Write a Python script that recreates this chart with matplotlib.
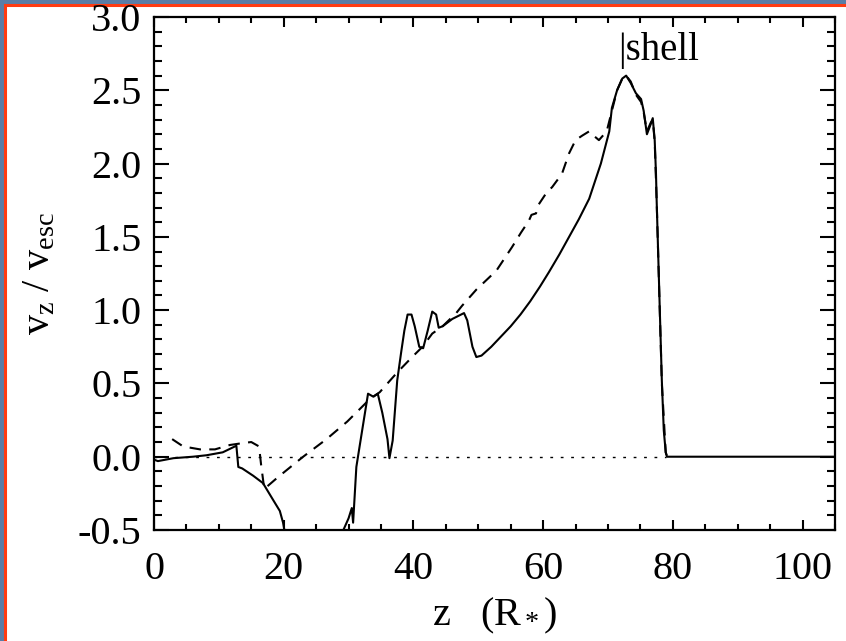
import matplotlib
matplotlib.use('Agg')
import matplotlib.pyplot as plt
from matplotlib.patches import Rectangle
from matplotlib.ticker import MultipleLocator

plt.rcParams['font.family'] = ['Liberation Serif', 'DejaVu Serif']
plt.rcParams['mathtext.fontset'] = 'custom'
plt.rcParams['mathtext.rm'] = 'Liberation Serif'
plt.rcParams['mathtext.it'] = 'Liberation Serif:italic'
plt.rcParams['mathtext.default'] = 'regular'

# ---- data ----
solid_z = [0, 0.6, 3, 6, 8.1, 10.6, 12.7, 13.0, 13.6, 15.3, 16.8, 18.3, 19.4, 19.9, 20.3, 22, 26,
           28.8, 29.2, 30.0, 30.5, 30.7, 31.2, 31.7, 33.0, 33.8, 34.5, 35.2, 36.0, 36.3, 36.8,
           37.5, 38.1, 38.6, 39.1, 39.7, 40.2, 40.9, 41.5, 42.2, 42.9, 43.5, 43.9, 44.5, 46.0,
           47.8, 48.3, 49.1, 49.7, 50.5, 52.0, 53.5, 55.0, 56.5, 58.0, 59.5, 60.9, 62.5, 64.0,
           65.5, 67.1, 68.9, 70.2, 70.6,
           71.4, 72.2, 72.8, 73.5, 74.3, 75.1, 75.5, 76.0, 76.6, 76.9, 77.2, 77.4, 77.5, 78.3,
           78.6, 78.9, 79.1, 105]
solid_v = [-0.02, -0.03, -0.01, 0.0, 0.01, 0.03, 0.075, -0.07, -0.08, -0.13, -0.18, -0.29, -0.37,
           -0.45, -0.55, -0.9, -0.9, -0.6, -0.5, -0.42, -0.35, -0.45, -0.07, 0.07, 0.43, 0.41,
           0.43, 0.30, 0.12, -0.01, 0.11, 0.52, 0.71, 0.86, 0.97, 0.97, 0.89, 0.75, 0.74, 0.86,
           0.99, 0.97, 0.88, 0.89, 0.94, 0.98, 0.93, 0.75, 0.68, 0.69, 0.75, 0.82, 0.89, 0.97,
           1.06, 1.16, 1.26, 1.38, 1.50, 1.62, 1.76, 2.00, 2.22, 2.38, 2.50, 2.58, 2.60, 2.55,
           2.48, 2.44, 2.36, 2.20, 2.27, 2.31, 2.16, 1.93, 1.75, 0.52, 0.18, 0.03, 0.0, 0.0]

dashed_z = [2.8, 4.5, 7.1, 9.4, 11.7, 14.0, 15.0, 16.2, 16.5, 17.0, 19.1, 23.0, 26.6, 29.8, 33.2,
            34.8, 37.4, 39.8, 41.4, 42.9, 44.5, 46.6, 47.5, 49.7, 52.8, 55.2, 56.6, 57.8, 58.2,
            58.9, 59.3, 60.5, 61.4, 62.9, 64.0, 65.0, 66.0, 67.1, 67.8, 68.6, 69.8, 70.6, 71.4,
            72.2, 72.8, 73.5, 74.3, 75.1, 75.5, 76.0, 76.6, 76.9, 77.2, 77.5, 78.3, 78.9, 79.1]
dashed_v = [0.12, 0.07, 0.05, 0.05, 0.08, 0.095, 0.10, 0.07, -0.05, -0.22, -0.14, 0.0, 0.12, 0.24,
            0.39, 0.44, 0.57, 0.68, 0.75, 0.84, 0.89, 0.98, 1.03, 1.14, 1.27, 1.43, 1.53, 1.61,
            1.65, 1.66, 1.72, 1.80, 1.84, 1.93, 2.07, 2.16, 2.19, 2.22, 2.19, 2.16, 2.22, 2.36,
            2.50, 2.58, 2.60, 2.56, 2.47, 2.42, 2.35, 2.22, 2.28, 2.30, 2.15, 1.75, 0.50, 0.03, 0.0]

zero_z = [0, 79]
zero_v = [0, 0]

shell_z = 71.6
shell_v = 2.71
shell_label = '|shell'

x_ticks = [0, 20, 40, 60, 80, 100]
y_ticks = [-0.5, 0.0, 0.5, 1.0, 1.5, 2.0, 2.5, 3.0]

# ---- figure ----
W, H = 846, 641
fig = plt.figure(figsize=(W / 100, H / 100), dpi=100)
fig.patch.set_facecolor('#5a7da6')
panel = Rectangle((5 / W, -0.5), 2.0, 1.5 - 5 / H, transform=fig.transFigure,
                  facecolor='white', edgecolor='#ff3b12', linewidth=2.2, clip_on=False, zorder=0)
fig.add_artist(panel)

ax = fig.add_axes([154 / W, 1 - 530 / H, (835 - 154) / W, (530 - 17) / H])
ax.set_facecolor('white')

ax.plot(zero_z, zero_v, color='black', lw=1.0, linestyle=(0, (2, 5.5)))
ax.plot(solid_z, solid_v, color='black', lw=1.5, solid_joinstyle='round')
ax.plot(dashed_z, dashed_v, color='black', lw=1.5, linestyle=(0, (5.5, 4)))

ax.text(shell_z, shell_v, shell_label, fontsize=28, va='baseline', ha='left')

ax.set_xlim(0, 105)
ax.set_ylim(-0.5, 3.0)
ax.set_xticks(x_ticks)
ax.set_xticklabels([str(t) for t in x_ticks])
ax.set_yticks(y_ticks)
ax.set_yticklabels(['%.1f' % t for t in y_ticks])
ax.xaxis.set_minor_locator(MultipleLocator(5))
ax.yaxis.set_minor_locator(MultipleLocator(0.1))

ax.tick_params(which='both', direction='in', top=True, right=True, width=1.5, labelsize=29)
ax.tick_params(axis='y', which='major', length=10.5, pad=9)
ax.tick_params(axis='y', which='minor', length=5.5)
ax.tick_params(axis='x', which='major', length=7.5, pad=15)
ax.tick_params(axis='x', which='minor', length=4)
for s in ax.spines.values():
    s.set_linewidth(1.6)

ax.set_xlabel(r'z   (R$_*$)', fontsize=29, labelpad=6)
ax.set_ylabel(r'v$_z$ / v$_{esc}$', fontsize=29, labelpad=14)

fig.savefig('out.png', dpi=100, facecolor=fig.get_facecolor())
